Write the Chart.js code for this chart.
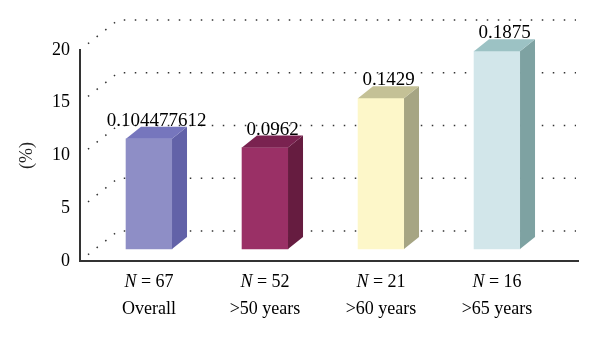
<!DOCTYPE html>
<html>
<head>
<meta charset="utf-8">
<script src="https://cdn.jsdelivr.net/npm/chart.js@4.4.0/dist/chart.umd.min.js"></script>
<style>
  html, body { margin:0; padding:0; background:#fff; }
</style>
</head>
<body>
<canvas id="myChart" width="600" height="340"></canvas>
<script>
// values
var groups = ['Overall', '>50 years', '>60 years', '>65 years'];
var counts = [67, 52, 21, 16];
var shares = [0.104477612, 0.0962, 0.1429, 0.1875]; // proportions, plotted as %
var shareText = ['0.104477612', '0.0962', '0.1429', '0.1875'];
var yTicks = [0, 5, 10, 15, 20];

// bar colours: front, top, side
var frontColors = ['#8e8ec6', '#9a3066', '#fdf7c9', '#d2e6ea'];
var topColors = ['#7676bd', '#7a2250', '#c4c196', '#9cc2c4'];
var sideColors = ['#6262a8', '#661c40', '#a6a583', '#7ea2a2'];

var SERIF = '"Liberation Serif", "DejaVu Serif", serif';
var DX = 15, DY = -12;   // depth of a bar
var WX = 38, WY = -30;   // offset of back wall
var LIFT = -12;          // bars stand a little behind the front axis

var box3d = {
  id: 'box3d',
  beforeDatasetsDraw: function(chart) {
    var ctx = chart.ctx, y = chart.scales.y, area = chart.chartArea;
    //dotted grid on the back wall
    ctx.save();
    ctx.strokeStyle = '#333';
    ctx.lineWidth = 1.5;
    ctx.setLineDash([1.5, 9.5]);
    yTicks.forEach(function(v) {
      var py = y.getPixelForValue(v);
      ctx.beginPath();
      ctx.moveTo(area.left + 8, py - 8 * (-WY / WX));
      ctx.lineTo(area.left + WX, py + WY);
      ctx.lineTo(576, py + WY);
      ctx.stroke();
    });
    ctx.restore();
    ctx.save();
    ctx.translate(0, LIFT); //front faces drawn by chart.js get moved back
  },
  afterDatasetsDraw: function(chart) {
    var ctx = chart.ctx;
    var meta = chart.getDatasetMeta(0);
    meta.data.forEach(function(bar, i) {
      var p = bar.getProps(['x', 'y', 'base', 'width'], true);
      var l = p.x - p.width / 2, r = p.x + p.width / 2, t = p.y, b = p.base;
      // side face
      ctx.fillStyle = sideColors[i];
      ctx.beginPath();
      ctx.moveTo(r, t); ctx.lineTo(r + DX, t + DY); ctx.lineTo(r + DX, b + DY); ctx.lineTo(r, b);
      ctx.closePath(); ctx.fill();
      // top face
      ctx.fillStyle = topColors[i];
      ctx.beginPath();
      ctx.moveTo(l, t); ctx.lineTo(l + DX, t + DY); ctx.lineTo(r + DX, t + DY); ctx.lineTo(r, t);
      ctx.closePath(); ctx.fill();
      // value above the bar
      ctx.fillStyle = '#000';
      ctx.font = '19px ' + SERIF;
      ctx.textAlign = 'center';
      ctx.textBaseline = 'alphabetic';
      ctx.fillText(shareText[i], p.x + DX / 2, t + DY - 1);
    });
    ctx.restore();
  },
  afterDraw: function(chart) {
    // category labels, two lines, italic N
    var ctx = chart.ctx, x = chart.scales.x;
    ctx.save();
    ctx.fillStyle = '#000';
    ctx.textBaseline = 'alphabetic';
    ctx.textAlign = 'left';
    groups.forEach(function(g, i) {
      var cx = x.getPixelForValue(i);
      var rest = ' = ' + counts[i];
      ctx.font = 'italic 18px ' + SERIF;
      var wN = ctx.measureText('N').width;
      ctx.font = '18px ' + SERIF;
      var wR = ctx.measureText(rest).width;
      var x0 = cx - (wN + wR) / 2;
      ctx.font = 'italic 18px ' + SERIF;
      ctx.fillText('N', x0, 287);
      ctx.font = '18px ' + SERIF;
      ctx.fillText(rest, x0 + wN, 287);
      ctx.textAlign = 'center';
      ctx.fillText(g, cx, 314);
      ctx.textAlign = 'left';
    });
    ctx.restore();
  }
};

var ctx = document.getElementById('myChart').getContext('2d');
var myChart = new Chart(ctx, {
  type: 'bar',
  data: {
    datasets: [{
      data: shares.map(function(s, i) { return {x: i, y: s * 100}; }),
      backgroundColor: frontColors,
      borderWidth: 0,
      barThickness: 46,
      clip: false
    }]
  },
  options: {
    responsive: false,
    animation: false,
    layout: { padding: { top: 50, right: 22, bottom: 79, left: 0 } },
    plugins: { legend: { display: false }, tooltip: { enabled: false } },
    scales: {
      x: {
        type: 'linear',
        offset: false,
        min: -0.595,
        max: 3.698,
        ticks: { display: false },
        grid: { display: false, drawTicks: false, offset: false },
        border: { display: true, color: '#333', width: 2 },
        afterFit: function(s) { s.height = 0; }
      },
      y: {
        min: 0,
        max: 20,
        afterBuildTicks: function(s) { s.ticks = yTicks.map(function(v) { return {value: v}; }); },
        ticks: { color: '#000', font: { family: SERIF, size: 18 }, padding: 10 },
        grid: { display: false, drawTicks: false },
        border: { display: true, color: '#333', width: 2 },
        title: { display: true, text: '(%)', color: '#222', font: { family: SERIF, size: 18 }, padding: { top: 16, bottom: 0 } },
        afterFit: function(s) { s.width = 80; }
      }
    }
  },
  plugins: [box3d]
});
</script>
</body>
</html>
